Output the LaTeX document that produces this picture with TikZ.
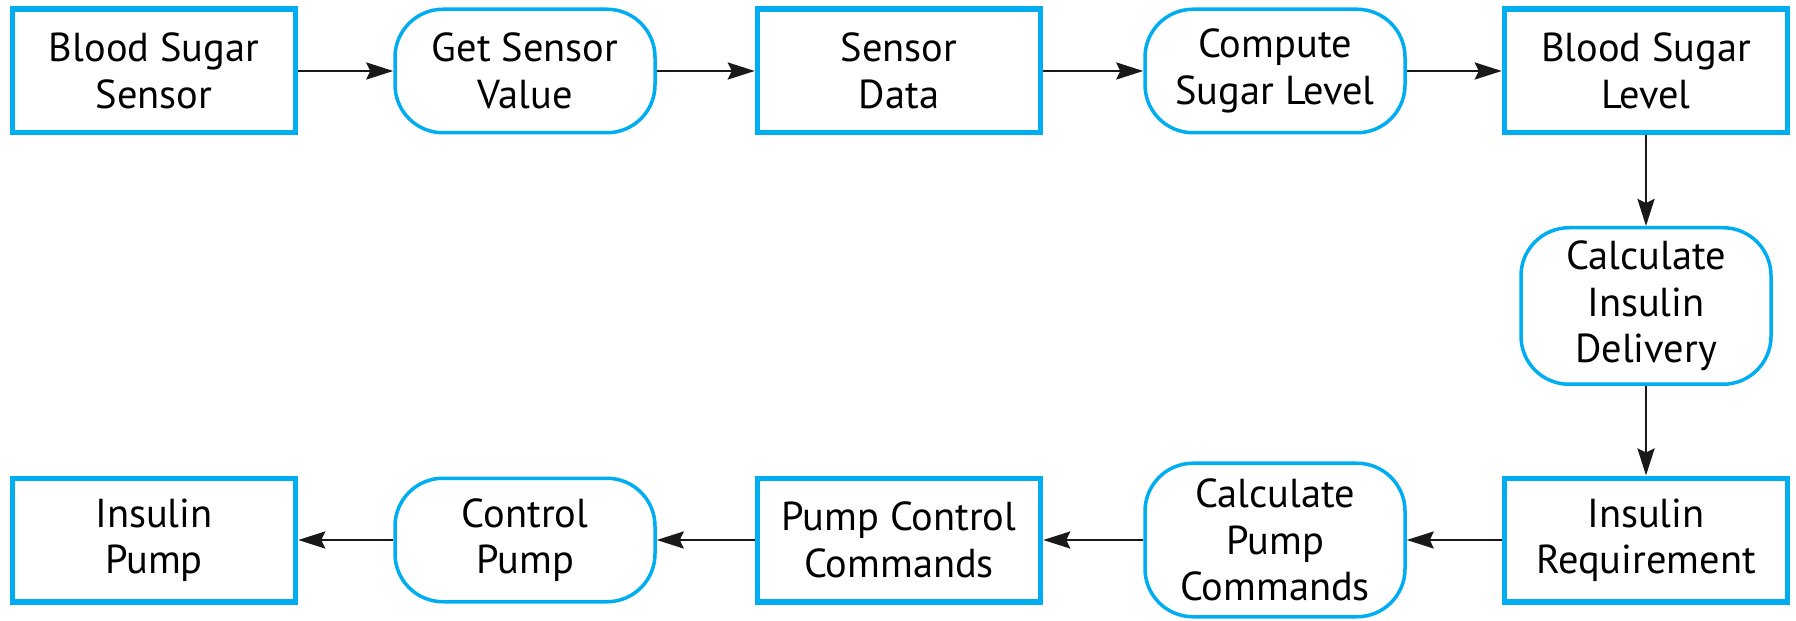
\documentclass[tikz,border=0pt]{standalone}
\usepackage{fontspec}
\setmainfont{PT Sans}
\usetikzlibrary{calc}
\usetikzlibrary{positioning}
\usetikzlibrary{arrows.meta}
\definecolor{mycyan}{rgb}{0.0,0.68,0.94}

\begin{document}
\begin{tikzpicture}[%
  >={Stealth[length=2.7mm, width=1.7mm, inset=0.4mm]},
  data/.style={rectangle, draw=mycyan, line width=0.55mm, align=center,
    minimum width=2.83cm, minimum height=1.235cm, inner sep=0pt,
    font=\fontsize{11.5}{13.2}\selectfont},
  proc/.style={rectangle, rounded corners=4.8mm, draw=mycyan, line width=0.35mm,
    align=center, minimum width=2.6cm, minimum height=1.235cm, inner sep=0pt,
    font=\fontsize{11.5}{13.2}\selectfont},
  flow/.style={->, line width=0.27mm, black!90},
]

  \useasboundingbox (0,0) rectangle (17.96,-6.21);

  \node[data] (d0) at (1.54,-0.71) {Blood Sugar\\Sensor};
  \node[proc] (p0) at (5.25,-0.71) {Get Sensor\\Value};
  \node[data] (d1) at (8.99,-0.71) {Sensor\\Data};
  \node[proc] (p1) at (12.75,-0.71) {Compute\\Sugar Level};
  \node[data] (d2) at (16.46,-0.71) {Blood Sugar\\Level};

  \node[proc, minimum width=2.5cm, minimum height=1.565cm] (p2) at (16.46,-3.06) {Calculate\\Insulin\\Delivery};

  \node[data] (d3) at (16.46,-5.40) {Insulin\\Requirement};
  \node[proc, minimum height=1.535cm] (p3) at (12.75,-5.40) {Calculate\\Pump\\Commands};
  \node[data] (d4) at (8.99,-5.40) {Pump Control\\Commands};
  \node[proc] (p4) at (5.25,-5.40) {Control\\Pump};
  \node[data] (d5) at (1.54,-5.40) {Insulin\\Pump};

  \path[flow] (d0) edge (p0);
  \path[flow] (p0) edge (d1);
  \path[flow] (d1) edge (p1);
  \path[flow] (p1) edge (d2);

  \path[flow] (d2) edge (p2);
  \path[flow] (p2) edge (d3);

  \path[flow] (d3) edge (p3);
  \path[flow] (p3) edge (d4);
  \path[flow] (d4) edge (p4);
  \path[flow] (p4) edge (d5);

\end{tikzpicture}
\end{document}
